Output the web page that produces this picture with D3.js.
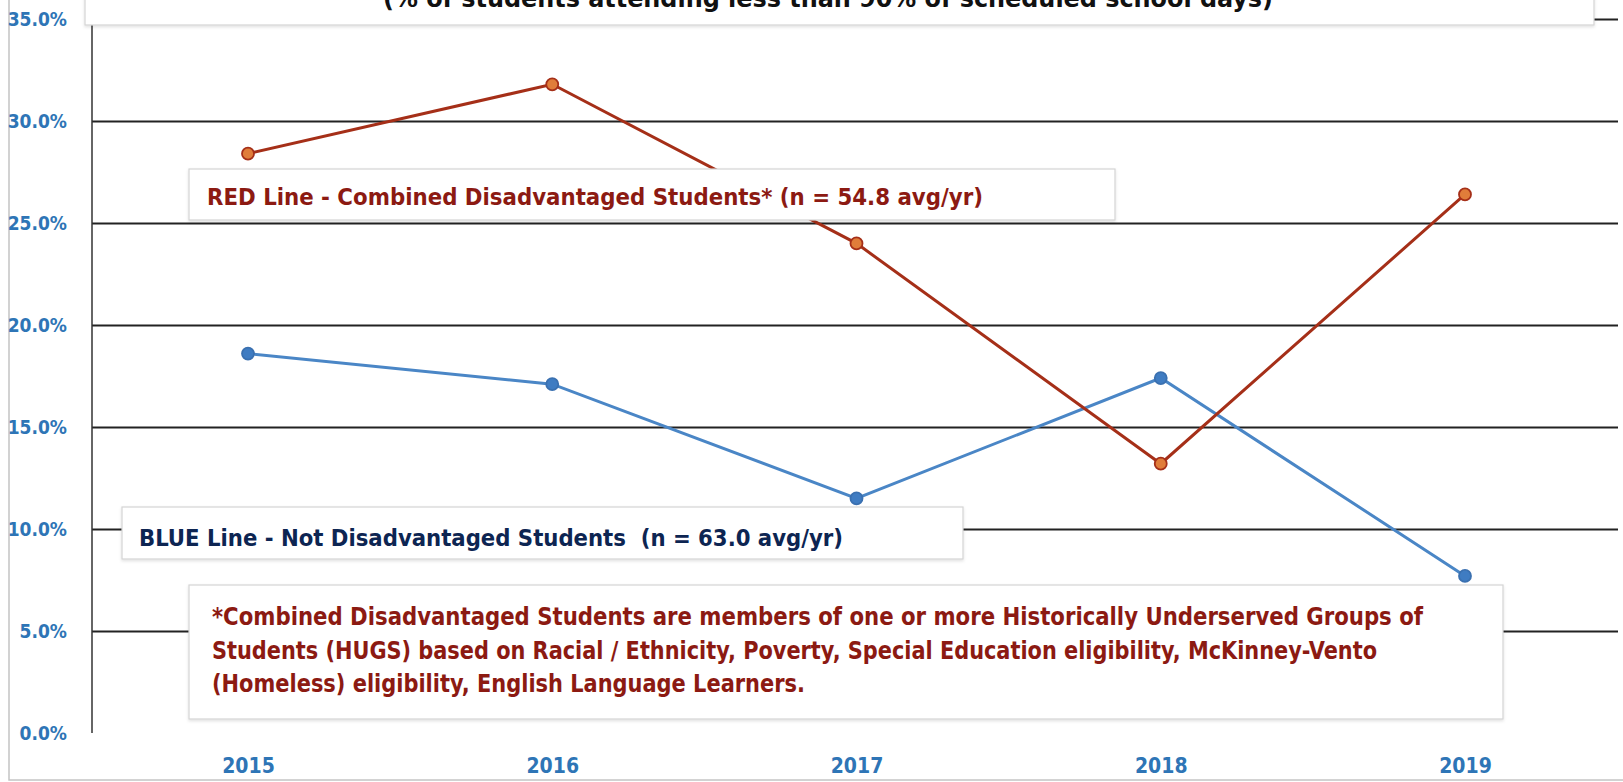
<!DOCTYPE html>
<html>
<head>
<meta charset="utf-8">
<script src="https://cdn.jsdelivr.net/npm/d3@7"></script>
<style>
  html, body { margin: 0; padding: 0; background: #fff; overflow: hidden; }
  svg { display: block; }
  .lbl { font-family: "Liberation Sans Narrow", "DejaVu Sans Condensed", "Open Sans", sans-serif; font-weight: bold; white-space: pre; }
  .tick text { font-family: "Liberation Sans Narrow", "DejaVu Sans Condensed", "Open Sans", sans-serif; font-weight: bold; fill: #2e75b6; }
</style>
</head>
<body>
<svg id="chart" width="1623" height="782"></svg>
<script>
// data
const years = ["2015", "2016", "2017", "2018", "2019"];
const redValues = [28.4, 31.8, 24.0, 13.2, 26.4];   // combined disadvantaged
const blueValues = [18.6, 17.1, 11.5, 17.4, 7.7];  // not disadvantaged
const yTicks = [0, 5, 10, 15, 20, 25, 30, 35];
const gridTicks = [5, 10, 15, 20, 25, 30, 35];

const titleText = "(% of students attending less than 90% of scheduled school days)";
const redLabel = "RED Line - Combined Disadvantaged Students* (n = 54.8 avg/yr)";
const blueLabel = "BLUE Line - Not Disadvantaged Students  (n = 63.0 avg/yr)";
const noteLines = [
  "*Combined Disadvantaged Students are members of one or more Historically Underserved Groups of",
  "Students (HUGS) based on Racial / Ethnicity, Poverty, Special Education eligibility, McKinney-Vento",
  "(Homeless) eligibility, English Language Learners."
];

const svg = d3.select("#chart");

const x = d3.scalePoint().domain(years).range([248, 1465]);
const y = d3.scaleLinear().domain([0, 35]).range([733, 19]);

// outer frame (scanned slide border)
svg.append("rect")
  .attr("x", 9).attr("y", -5).attr("width", 1700).attr("height", 785)
  .attr("fill", "none").attr("stroke", "#c4c4c4").attr("stroke-width", 1.5);

const shadow = svg.append("defs").append("filter").attr("id", "sh")
  .attr("x", "-5%").attr("y", "-20%").attr("width", "110%").attr("height", "140%");
shadow.append("feDropShadow").attr("dx", 0).attr("dy", 1.5).attr("stdDeviation", 1.5)
  .attr("flood-color", "#000").attr("flood-opacity", 0.12);

// gridlines
svg.append("g")
  .attr("transform", "translate(92,0)")
  .call(d3.axisRight(y).tickValues(gridTicks).tickSize(1526).tickFormat(""))
  .call(g => g.select(".domain").remove())
  .call(g => g.selectAll("line").attr("stroke", "#222").attr("stroke-width", 2));

// y axis line
svg.append("line")
  .attr("x1", 92).attr("x2", 92).attr("y1", 23).attr("y2", y(0))
  .attr("stroke", "#333").attr("stroke-width", 1.5);

// y tick labels
svg.append("g")
  .attr("transform", "translate(67,0)")
  .call(d3.axisLeft(y).tickValues(yTicks).tickSize(0).tickPadding(0)
    .tickFormat(d => d3.format(".1%")(d / 100)))
  .call(g => g.select(".domain").remove())
  .call(g => g.selectAll("text").attr("font-size", 19).attr("dy", "0.35em"));

// x tick labels
svg.append("g")
  .attr("transform", `translate(0,${y(0)})`)
  .call(d3.axisBottom(x).tickSize(0).tickPadding(25))
  .call(g => g.select(".domain").remove())
  .call(g => g.selectAll("text").attr("font-size", 21));

const line = d3.line().x((d, i) => x(years[i])).y(d => y(d));

function drawSeries(values, lineColor, dotFill, dotStroke) {
  svg.append("path").datum(values)
    .attr("d", line).attr("fill", "none")
    .attr("stroke", lineColor).attr("stroke-width", 3);
  svg.append("g").selectAll("circle").data(values).join("circle")
    .attr("cx", (d, i) => x(years[i])).attr("cy", d => y(d)).attr("r", 6)
    .attr("fill", dotFill).attr("stroke", dotStroke).attr("stroke-width", 1.8);
}
drawSeries(blueValues, "#4a86c6", "#3f7cc2", "#3a70b0");
drawSeries(redValues, "#a52f18", "#e07d3a", "#a52f18");

// text boxes sit on top of lines
function box(x0, y0, x1, y1) {
  svg.append("rect")
    .attr("x", x0).attr("y", y0).attr("width", x1 - x0).attr("height", y1 - y0)
    .attr("fill", "#fff").attr("stroke", "#d4d4d4").attr("stroke-width", 1.2)
    .attr("filter", "url(#sh)");
}
function label(txt, x0, yb, size, color, len, anchor) {
  const t = svg.append("text").attr("class", "lbl")
    .attr("x", x0).attr("y", yb).attr("font-size", size).attr("fill", color)
    .attr("text-anchor", anchor || "start").text(txt);
  if (len) t.attr("textLength", len).attr("lengthAdjust", "spacingAndGlyphs");
}

box(85, -10, 1594, 25);
label(titleText, 828, 7, 25, "#111", 890, "middle");

box(189, 169, 1115, 220);
label(redLabel, 207, 205, 23, "#8c1a12", 776);

box(122, 507, 963, 559);
label(blueLabel, 139, 546, 23, "#0d2552", 704);

box(189, 585, 1503, 719);
const noteLens = [1211, 1165, 593];
noteLines.forEach((t, i) => label(t, 212, 625 + i * 33.5, 24, "#8c1a12", noteLens[i]));
</script>
</body>
</html>
